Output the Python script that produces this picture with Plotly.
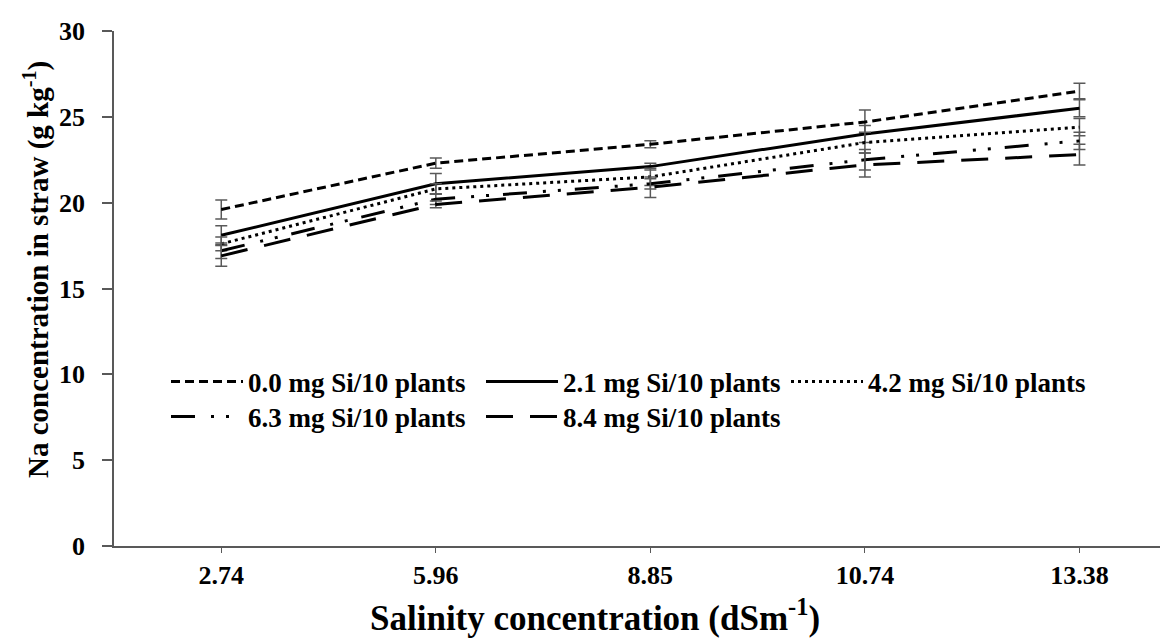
import plotly.graph_objects as go

categories = ["2.74", "5.96", "8.85", "10.74", "13.38"]
series_names = ["0.0 mg Si/10 plants", "2.1 mg Si/10 plants", "4.2 mg Si/10 plants",
                "6.3 mg Si/10 plants", "8.4 mg Si/10 plants"]
si_00 = [19.6, 22.3, 23.4, 24.7, 26.5]
si_21 = [18.1, 21.1, 22.1, 24.0, 25.5]
si_42 = [17.6, 20.8, 21.5, 23.5, 24.4]
si_63 = [17.2, 20.2, 21.1, 22.5, 23.6]
si_84 = [16.9, 19.9, 20.9, 22.2, 22.8]
err_00 = [0.55, 0.3, 0.2, 0.7, 0.45]
err_21 = [0.55, 0.6, 0.2, 0.5, 0.5]
err_42 = [0.4, 0.3, 0.5, 0.6, 0.5]
err_63 = [0.45, 0.3, 0.3, 0.6, 0.5]
err_84 = [0.6, 0.2, 0.6, 0.7, 0.6]

values = [si_00, si_21, si_42, si_63, si_84]
errors = [err_00, err_21, err_42, err_63, err_84]
dashes = ["9px,5px", "solid", "3px,4px", "24px,16px,3px,12px,3px,14px", "27px,17px"]
legend_ids = ["legend", "legend2", "legend3", "legend4", "legend5"]

FONT = "Liberation Serif"
AX = "#595959"

# plot-area geometry (px) used to place legends / titles
L, T, W, H = 106, 23, 1062, 515
BOTTOM = T + H

fig = go.Figure()
for name, v, e, d, lg in zip(series_names, values, errors, dashes, legend_ids):
    fig.add_trace(go.Scatter(
        x=categories, y=v, name=name, mode="lines", legend=lg,
        line=dict(color="black", width=3, dash=d),
        error_y=dict(type="data", array=e, visible=True, color=AX, thickness=1.5, width=6),
    ))

legend_pos = [(158, 374), (473, 374), (778, 374), (158, 409), (473, 409)]
legend_layout = {}
for lg, (px, py) in zip(legend_ids, legend_pos):
    legend_layout[lg] = dict(
        orientation="h", itemwidth=72,
        font=dict(family=FONT, size=27, color="black", weight="bold"),
        bgcolor="rgba(0,0,0,0)", xanchor="left", yanchor="middle",
        x=(px - L) / W, y=(BOTTOM - py) / H,
    )

fig.update_layout(
    width=1168, height=638,
    margin=dict(l=L, r=1168 - L - W, t=T, b=638 - BOTTOM),
    paper_bgcolor="white", plot_bgcolor="white",
    showlegend=True,
    **legend_layout,
    xaxis=dict(
        type="category", range=[-0.5, 4.45],
        showline=True, linecolor=AX, linewidth=1.5, showgrid=False, zeroline=False,
        ticks="outside", ticklen=5, tickcolor=AX, tickwidth=1,
        tickfont=dict(family=FONT, size=26, color="black", weight="bold"),
        ticklabelstandoff=0,
    ),
    yaxis=dict(
        range=[0, 30], dtick=5,
        showline=True, linecolor=AX, linewidth=1.5, showgrid=False, zeroline=False,
        ticks="outside", ticklen=10, tickcolor=AX, tickwidth=1.5,
        tickfont=dict(family=FONT, size=26, color="black", weight="bold"),
        ticklabelstandoff=12,
    ),
    annotations=[
        dict(text="Salinity concentration (dSm<sup>-1</sup>)", xref="paper", yref="paper",
             x=(587 - L) / W, y=(BOTTOM - 607) / H, xanchor="center", yanchor="middle",
             showarrow=False, font=dict(family=FONT, size=35, color="black", weight="bold")),
        dict(text="Na concentration in straw (g kg<sup>-1</sup>)", xref="paper", yref="paper",
             x=(28 - L) / W, y=(BOTTOM - 262) / H, xanchor="center", yanchor="middle",
             textangle=-90, showarrow=False,
             font=dict(family=FONT, size=29, color="black", weight="bold")),
    ],
)

fig.write_html("out.html")
